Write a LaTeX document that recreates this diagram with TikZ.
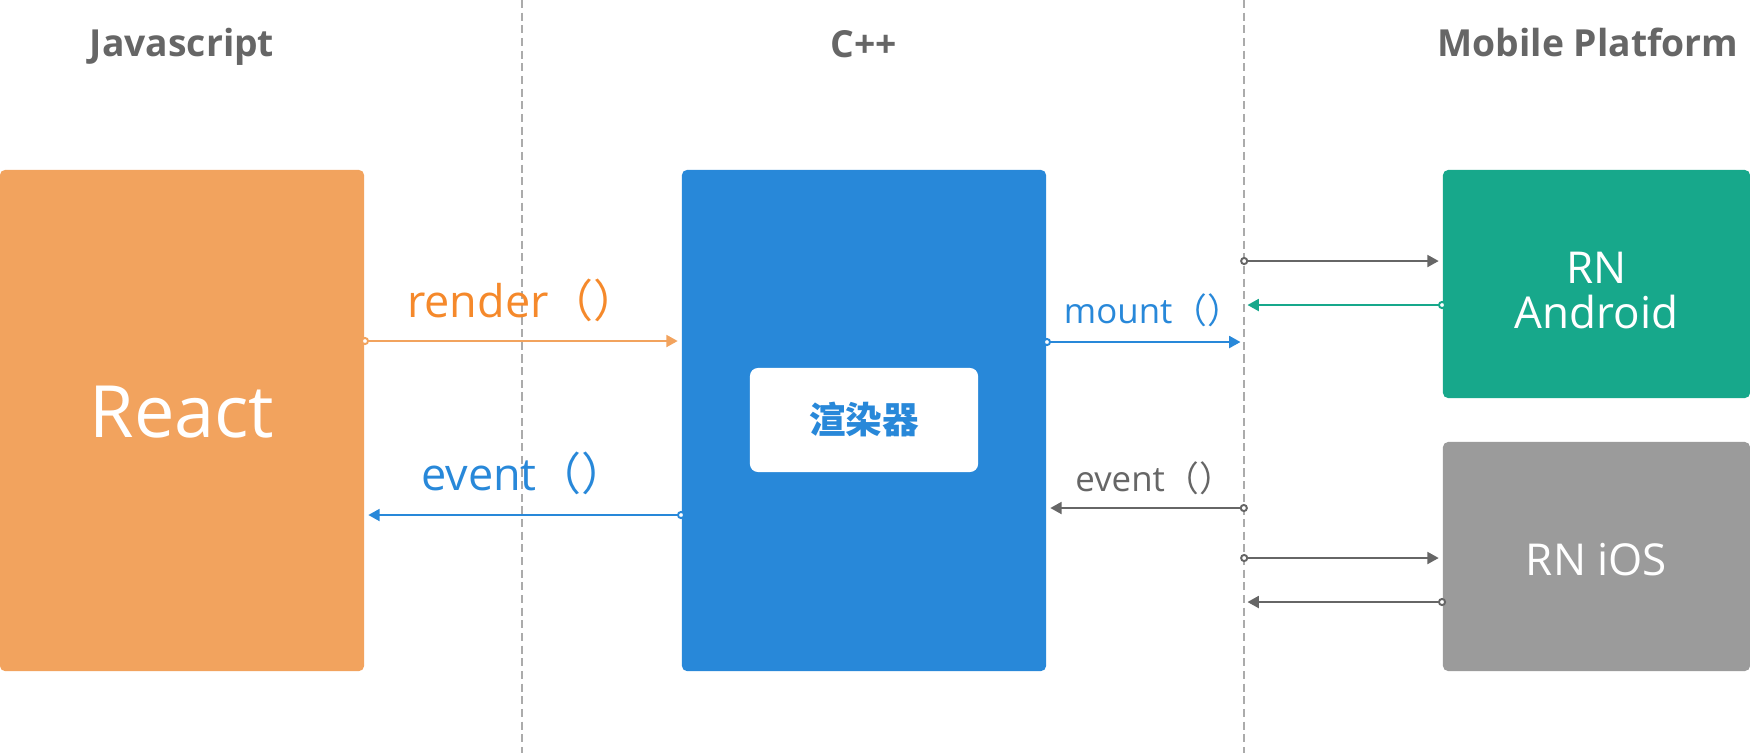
\documentclass[tikz,border=0pt]{standalone}
\usepackage{fontspec}
\setmainfont{Open Sans}
\newfontfamily\cjk{Noto Sans CJK SC}
\usepackage{xcolor}
\usetikzlibrary{arrows.meta,positioning,calc}

\definecolor{jsorange}{HTML}{F2A35E}
\definecolor{jstext}{HTML}{F5892B}
\definecolor{cppblue}{HTML}{2888D9}
\definecolor{droidgreen}{HTML}{17A88B}
\definecolor{iosgray}{HTML}{9B9B9B}
\definecolor{headgray}{HTML}{666666}
\definecolor{lanegray}{HTML}{ABABAB}

\begin{document}
\begin{tikzpicture}[x=0.01cm, y=-0.01cm,
    block/.style={rounded corners=1.5pt, text=white, inner sep=0pt},
    lane/.style={draw=lanegray, line width=0.4pt, dash pattern=on 2.3pt off 1.3pt},
    call/.style={line width=0.55pt, shorten <=-1.1pt, shorten >=1pt,
      {Circle[length=2.3pt, fill=white]}-{Triangle[length=3.2pt, width=3.4pt]}},
    head/.style={anchor=base, text=headgray, font=\bfseries\fontsize{10.6}{13}\selectfont},
    lbl/.style={font=\fontsize{12.8}{15}\selectfont},
    slbl/.style={font=\fontsize{9.9}{12}\selectfont}]

  \useasboundingbox (0,0) rectangle (1750,753);

  % Lanes
  \coordinate (lane1) at (522,0);
  \coordinate (lane2) at (1244,0);
  \draw[lane] (lane1) -- (522,753);
  \draw[lane] (lane2) -- (1244,753);

  % Column titles
  \node[head] (jshead) at (182,56) {Javascript};
  \node[head] (cpphead) at (864,57) {C++};
  \node[head] (mobhead) at (1588,56) {Mobile Platform};

  % Blocks
  \node[block, fill=jsorange, minimum width=3.64cm, minimum height=5.01cm,
    text depth=0.18cm, font=\fontsize{20.5}{24}\selectfont] (react) at (182,420.5) {React};
  \node[block, fill=cppblue, minimum width=3.64cm, minimum height=5.01cm] (cpp) at (864,420.5) {};
  \node[block, fill=white, rounded corners=2.3pt, minimum width=2.28cm, minimum height=1.04cm,
    text=cppblue, font=\cjk\bfseries\fontsize{10.4}{12}\selectfont] (renderer) at (864,420) {渲染器};
  \node[block, fill=droidgreen, minimum width=3.07cm, minimum height=2.28cm, align=center,
    text height=25.5pt, font=\fontsize{12.5}{12.8}\selectfont] (android) at (1596.5,284) {RN\\Android};
  \node[block, fill=iosgray, minimum width=3.07cm, minimum height=2.29cm,
    text height=11pt, font=\fontsize{12.5}{14}\selectfont] (ios) at (1596.5,556.5) {RN iOS};

  % Call levels
  \coordinate (yrender) at (0,341);
  \coordinate (yevent) at (0,515);
  \coordinate (ymount) at (0,342);
  \coordinate (ydroidin) at (0,261);
  \coordinate (ydroidout) at (0,305);
  \coordinate (ynative) at (0,508);
  \coordinate (yiosin) at (0,558);
  \coordinate (yiosout) at (0,602);

  % JS <-> C++
  \draw[call, jsorange] (react.east |- yrender) -- (cpp.west |- yrender);
  \node[lbl, text=jstext] at (523,300) {render{\cjk（）}};
  \draw[call, cppblue] (cpp.west |- yevent) -- (react.east |- yevent);
  \node[lbl, text=cppblue] at (524,473) {event{\cjk（）}};

  % C++ <-> platform
  \draw[call, cppblue] (cpp.east |- ymount) -- (lane2 |- ymount);
  \node[slbl, text=cppblue] at (1153,310) {mount{\cjk（）}};
  \draw[call, headgray] (lane2 |- ynative) -- (cpp.east |- ynative);
  \node[slbl, text=headgray] at (1155,478) {event{\cjk（）}};

  % Platform lanes
  \draw[call, headgray] (lane2 |- ydroidin) -- (android.west |- ydroidin);
  \draw[call, droidgreen] (android.west |- ydroidout) -- (lane2 |- ydroidout);
  \draw[call, headgray] (lane2 |- yiosin) -- (ios.west |- yiosin);
  \draw[call, headgray] (ios.west |- yiosout) -- (lane2 |- yiosout);

\end{tikzpicture}
\end{document}
